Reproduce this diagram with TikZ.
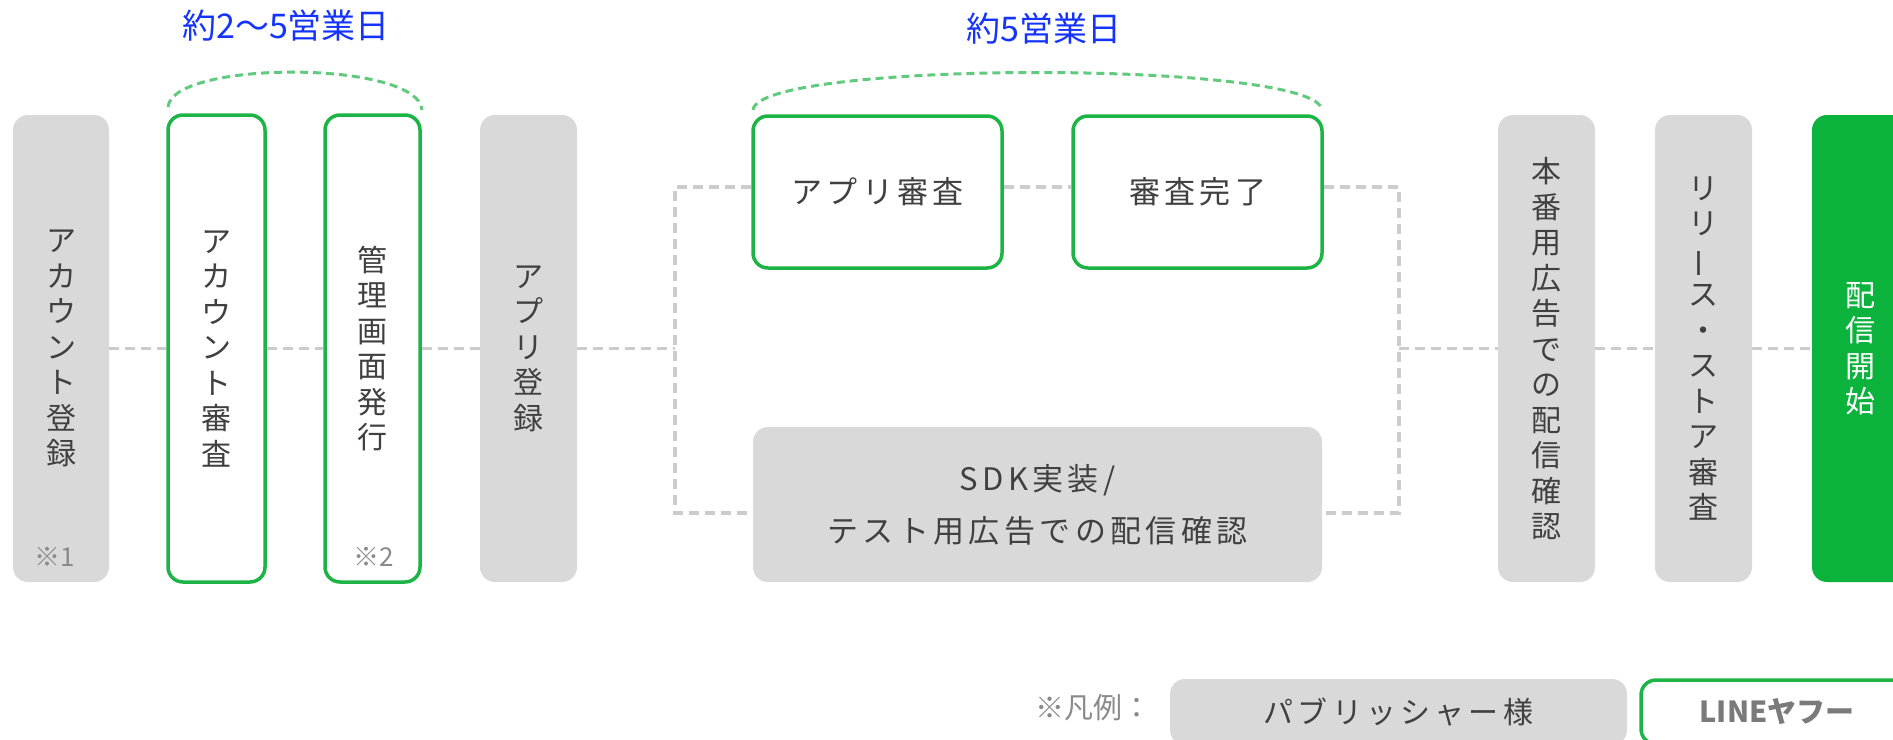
\documentclass[tikz,border=0pt]{standalone}
\usepackage{fontspec}
\usepackage{graphicx}
\setmainfont{Noto Sans CJK JP}
\newfontfamily\jpls{Noto Sans CJK JP}[LetterSpace=14]
\usetikzlibrary{backgrounds}
\definecolor{boxgray}{HTML}{D9D9D9}
\definecolor{lgreen}{HTML}{1DB446}
\definecolor{fgreen}{HTML}{0BB33D}
\definecolor{arcgreen}{HTML}{62CA7E}
\definecolor{conngray}{HTML}{CCCCCC}
\definecolor{txtgray}{HTML}{404040}
\definecolor{notegray}{HTML}{8A8A8A}
\definecolor{legtxt}{HTML}{7A7A7A}
\definecolor{bluetxt}{HTML}{1433FF}
\newcommand{\vfont}{\fontsize{30}{35.5}\selectfont}
\newcommand{\vbar}{\rotatebox[origin=c]{90}{ー}}
\tikzset{
  pubbox/.style={fill=boxgray, rounded corners=15pt, inner sep=0pt, text=txtgray, align=center, font=\vfont},
  lybox/.style={draw=lgreen, line width=3.5pt, fill=white, rounded corners=15pt, inner sep=0pt, text=txtgray, align=center, font=\vfont},
  startbox/.style={fill=fgreen, rounded corners=15pt, inner sep=0pt, text=white, align=center, font=\vfont},
  hbox/.style={font=\jpls\fontsize{31}{52}\selectfont},
  conn/.style={draw=conngray, line width=3.3pt, dash pattern=on 10pt off 6pt},
  arcd/.style={draw=arcgreen, line width=3pt, dash pattern=on 8pt off 5pt},
  bluelabel/.style={text=bluetxt, inner sep=0pt, font=\fontsize{34}{40}\selectfont},
  notelabel/.style={text=notegray, inner sep=0pt, font=\fontsize{26}{30}\selectfont}
}
\begin{document}
\begin{tikzpicture}[x=1pt,y=-1pt]
\useasboundingbox (0,0) rectangle (1893,739);
\clip (0,0) rectangle (1893,739);

% main column boxes
\node[pubbox, minimum width=96pt, minimum height=467pt] (acc) at (61,348.5) {ア\\カ\\ウ\\ン\\ト\\登\\録};
\node[lybox, minimum width=97pt, minimum height=467pt] (rev) at (216.5,348.5) {ア\\カ\\ウ\\ン\\ト\\審\\査};
\node[lybox, minimum width=95pt, minimum height=467pt] (kanri) at (372.5,348.5) {管\\理\\画\\面\\発\\行};
\node[pubbox, minimum width=97pt, minimum height=467pt] (appreg) at (528.5,348.5) {ア\\プ\\リ\\登\\録};

\node[notelabel] (n1) at (55,557) {※1};
\node[notelabel] (n2) at (374,557) {※2};

% review boxes
\node[lybox, hbox, minimum width=249pt, minimum height=152pt] (appr) at (877.5,192) {アプリ審査};
\node[lybox, hbox, minimum width=249pt, minimum height=152pt] (done) at (1197.5,192) {審査完了};
\node[pubbox, hbox, minimum width=569pt, minimum height=155pt] (sdk) at (1037.5,504.5) {SDK実装/\\テスト用広告での配信確認};

% right column boxes
\node[pubbox, minimum width=97pt, minimum height=467pt] (prod) at (1546.5,348.5) {本\\番\\用\\広\\告\\で\\の\\配\\信\\確\\認};
\node[pubbox, minimum width=97pt, minimum height=467pt] (rel) at (1703.5,348.5) {リ\\リ\\\vbar\\ス\\・\\ス\\ト\\ア\\審\\査};
\node[startbox, minimum width=97pt, minimum height=467pt] (start) at (1860.5,348.5) {配\\信\\開\\始};

% connectors
\coordinate (jl) at (675,348.5);
\coordinate (jr) at (1399,348.5);
\coordinate (tl) at (675,187);
\coordinate (bl) at (675,513);
\coordinate (tr) at (1399,187);
\coordinate (br) at (1399,513);
\begin{scope}[on background layer]
\draw[conn] (acc.east) -- (rev.west);
\draw[conn] (rev.east) -- (kanri.west);
\draw[conn] (kanri.east) -- (appreg.west);
\draw[conn] (appreg.east) -- (jl);
\draw[conn] (tl -| appr.west) -- (tl) -- (bl) -- (bl -| sdk.west);
\draw[conn] (appr.east |- tl) -- (done.west |- tl);
\draw[conn] (done.east |- tr) -- (tr) -- (br) -- (br -| sdk.east);
\draw[conn] (jr) -- (prod.west);
\draw[conn] (prod.east) -- (rel.west);
\draw[conn] (rel.east) -- (start.west);
\end{scope}

% duration brackets
\coordinate (a1s) at (168,107);
\coordinate (a1e) at (422,110);
\draw[arcd] (a1s) .. controls (172,60) and (418,60) .. (a1e);
\coordinate (a2s) at (753,110);
\coordinate (a2e) at (1322,110);
\draw[arcd] (a2s) .. controls (757,60) and (1318,60) .. (a2e);
\node[bluelabel] (d1) at (286,26) {約2〜5営業日};
\node[bluelabel] (d2) at (1044,29) {約5営業日};

% legend
\node[text=notegray, inner sep=0pt, font=\fontsize{29}{34}\selectfont] (lg) at (1093,708) {※凡例：};
\node[pubbox, font=\jpls\fontsize{30}{52}\selectfont, minimum width=457pt, minimum height=66pt] (lpub) at (1398.5,712) {パブリッシャー様};
\node[lybox, minimum width=272pt, minimum height=64pt, text=legtxt, font=\bfseries\fontsize{29}{34}\selectfont] (lline) at (1777,712) {LINEヤフー};
\end{tikzpicture}
\end{document}
